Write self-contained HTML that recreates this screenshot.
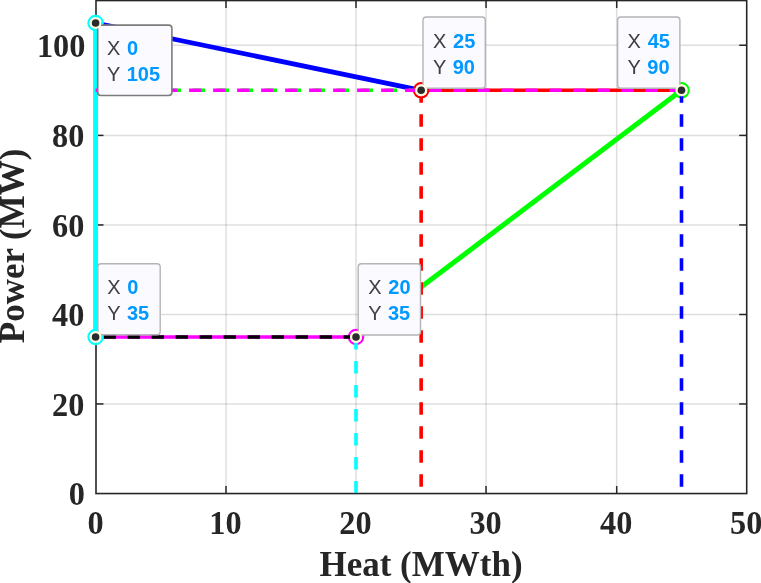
<!DOCTYPE html>
<html lang="en"><head><meta charset="utf-8"><title>Heat vs Power feasible region</title>
<style>html,body{margin:0;padding:0;background:#fff;}body{width:761px;height:583px;overflow:hidden;}svg{display:block;}.tk{font-family:"Liberation Serif","Times New Roman",serif;font-weight:bold;font-size:32.3px;fill:#262626;}.lb{font-family:"Liberation Serif","Times New Roman",serif;font-weight:bold;font-size:35px;fill:#262626;}.dl{font-family:"Liberation Sans",Arial,sans-serif;font-size:20px;fill:#404040;}.dv{font-family:"Liberation Sans",Arial,sans-serif;font-size:20px;font-weight:bold;fill:#0099ff;}</style></head><body>
<svg width="761" height="583" viewBox="0 0 761 583">
<rect x="0" y="0" width="761" height="583" fill="#ffffff"/>
<g stroke="#262626" stroke-opacity="0.15" stroke-width="1.5" fill="none">
<line x1="226.00" y1="0.55" x2="226.00" y2="493.55"/>
<line x1="356.00" y1="0.55" x2="356.00" y2="493.55"/>
<line x1="486.05" y1="0.55" x2="486.05" y2="493.55"/>
<line x1="616.70" y1="0.55" x2="616.70" y2="493.55"/>
<line x1="96.00" y1="403.95" x2="746.70" y2="403.95"/>
<line x1="96.00" y1="314.50" x2="746.70" y2="314.50"/>
<line x1="96.00" y1="224.95" x2="746.70" y2="224.95"/>
<line x1="96.00" y1="135.40" x2="746.70" y2="135.40"/>
<line x1="96.00" y1="45.25" x2="746.70" y2="45.25"/>
</g>
<g stroke="#262626" stroke-width="1.5" fill="none">
<rect x="96.00" y="0.55" width="650.70" height="493.00" stroke-width="1.6"/>
<line x1="226.00" y1="493.55" x2="226.00" y2="486.05"/>
<line x1="226.00" y1="0.55" x2="226.00" y2="8.05"/>
<line x1="356.00" y1="493.55" x2="356.00" y2="486.05"/>
<line x1="356.00" y1="0.55" x2="356.00" y2="8.05"/>
<line x1="486.05" y1="493.55" x2="486.05" y2="486.05"/>
<line x1="486.05" y1="0.55" x2="486.05" y2="8.05"/>
<line x1="616.70" y1="493.55" x2="616.70" y2="486.05"/>
<line x1="616.70" y1="0.55" x2="616.70" y2="8.05"/>
<line x1="96.00" y1="403.95" x2="103.50" y2="403.95"/>
<line x1="746.70" y1="403.95" x2="739.20" y2="403.95"/>
<line x1="96.00" y1="314.50" x2="103.50" y2="314.50"/>
<line x1="746.70" y1="314.50" x2="739.20" y2="314.50"/>
<line x1="96.00" y1="224.95" x2="103.50" y2="224.95"/>
<line x1="746.70" y1="224.95" x2="739.20" y2="224.95"/>
<line x1="96.00" y1="135.40" x2="103.50" y2="135.40"/>
<line x1="746.70" y1="135.40" x2="739.20" y2="135.40"/>
<line x1="96.00" y1="45.25" x2="103.50" y2="45.25"/>
<line x1="746.70" y1="45.25" x2="739.20" y2="45.25"/>
</g>
<g class="tk" text-anchor="middle">
<text transform="translate(95.50,534.2) scale(1,1.06)">0</text>
<text transform="translate(225.50,534.2) scale(1,1.06)">10</text>
<text transform="translate(355.50,534.2) scale(1,1.06)">20</text>
<text transform="translate(485.55,534.2) scale(1,1.06)">30</text>
<text transform="translate(616.20,534.2) scale(1,1.06)">40</text>
<text transform="translate(746.20,534.2) scale(1,1.06)">50</text>
</g>
<g class="tk" text-anchor="end">
<text transform="translate(84.90,505.15) scale(1,1.06)">0</text>
<text transform="translate(84.40,415.95) scale(1,1.06)">20</text>
<text transform="translate(84.40,325.60) scale(1,1.06)">40</text>
<text transform="translate(84.40,236.95) scale(1,1.06)">60</text>
<text transform="translate(84.40,147.40) scale(1,1.06)">80</text>
<text transform="translate(85.40,57.25) scale(1,1.06)">100</text>
</g>
<text class="lb" text-anchor="middle" transform="translate(421.0,576.1) scale(1,1.025)">Heat (MWth)</text>
<text class="lb" text-anchor="middle" transform="translate(23.9,245.9) rotate(-90)">Power (MW)</text>
<g fill="none">
<line x1="95.60" y1="23.00" x2="421.15" y2="90.30" stroke="#0000ff" stroke-width="4.80"/>
<line x1="421.15" y1="287.10" x2="681.50" y2="90.30" stroke="#00ff00" stroke-width="5.00"/>
<circle cx="681.50" cy="90.30" r="7.2" stroke="#00ff00" stroke-width="2.2"/>
<line x1="95.60" y1="337.00" x2="95.60" y2="23.00" stroke="#00ffff" stroke-width="5.00"/>
<line x1="421.15" y1="90.30" x2="681.50" y2="90.30" stroke="#ff0000" stroke-width="3.60"/>
<circle cx="421.15" cy="90.30" r="7.2" stroke="#ff0000" stroke-width="2.2"/>
<line x1="96.60" y1="90.30" x2="421.15" y2="90.30" stroke="#00ff00" stroke-width="3.60" stroke-dasharray="12.4 11.6" stroke-dashoffset="0.00"/>
<line x1="681.50" y1="90.30" x2="95.60" y2="90.30" stroke="#ff00ff" stroke-width="3.60" stroke-dasharray="12.4 11.6" stroke-dashoffset="0.00"/>
<line x1="95.60" y1="337.00" x2="356.00" y2="337.00" stroke="#ff00ff" stroke-width="3.60"/>
<circle cx="356.00" cy="337.00" r="7.2" stroke="#ff00ff" stroke-width="2.2"/>
<line x1="356.00" y1="337.00" x2="95.60" y2="337.00" stroke="#000000" stroke-width="3.60" stroke-dasharray="12.4 11.6" stroke-dashoffset="0.00"/>
<circle cx="95.60" cy="337.00" r="7.2" stroke="#00ffff" stroke-width="2.2"/>
<circle cx="95.60" cy="23.00" r="7.2" stroke="#00ffff" stroke-width="2.2"/>
<line x1="421.15" y1="90.30" x2="421.15" y2="492.75" stroke="#ff0000" stroke-width="3.60" stroke-dasharray="12.4 11.6" stroke-dashoffset="0.00"/>
<line x1="681.50" y1="90.30" x2="681.50" y2="492.75" stroke="#0000ff" stroke-width="3.60" stroke-dasharray="12.4 11.6" stroke-dashoffset="0.00"/>
<line x1="356.00" y1="337.00" x2="356.00" y2="492.75" stroke="#00ffff" stroke-width="3.60" stroke-dasharray="12.4 11.6" stroke-dashoffset="0.00"/>
</g>
<g>
<rect x="97.70" y="25.15" width="74.20" height="70.40" rx="3.2" ry="3.2" fill="#fafaff" stroke="#7c7c7c" stroke-width="1.6"/>
<text x="106.90" y="55.15"><tspan class="dl">X </tspan><tspan class="dv" dx="1.2">0</tspan></text>
<text x="106.90" y="81.25"><tspan class="dl">Y </tspan><tspan class="dv" dx="1.2">105</tspan></text>
</g>
<g>
<rect x="423.00" y="17.00" width="62.30" height="71.30" rx="3.2" ry="3.2" fill="#fafaff" stroke="#b4b4b4" stroke-width="1.4"/>
<text x="433.00" y="47.90"><tspan class="dl">X </tspan><tspan class="dv" dx="1.2">25</tspan></text>
<text x="433.00" y="73.80"><tspan class="dl">Y </tspan><tspan class="dv" dx="1.2">90</tspan></text>
</g>
<g>
<rect x="617.60" y="17.00" width="62.30" height="71.30" rx="3.2" ry="3.2" fill="#fafaff" stroke="#b4b4b4" stroke-width="1.4"/>
<text x="627.60" y="47.90"><tspan class="dl">X </tspan><tspan class="dv" dx="1.2">45</tspan></text>
<text x="627.60" y="73.80"><tspan class="dl">Y </tspan><tspan class="dv" dx="1.2">90</tspan></text>
</g>
<g>
<rect x="97.90" y="263.70" width="62.30" height="71.00" rx="3.2" ry="3.2" fill="#fafaff" stroke="#b4b4b4" stroke-width="1.4"/>
<text x="107.20" y="294.20"><tspan class="dl">X </tspan><tspan class="dv" dx="1.2">0</tspan></text>
<text x="107.20" y="319.80"><tspan class="dl">Y </tspan><tspan class="dv" dx="1.2">35</tspan></text>
</g>
<g>
<rect x="358.20" y="263.80" width="62.30" height="71.20" rx="3.2" ry="3.2" fill="#fafaff" stroke="#b4b4b4" stroke-width="1.4"/>
<text x="368.20" y="294.30"><tspan class="dl">X </tspan><tspan class="dv" dx="1.2">20</tspan></text>
<text x="368.20" y="319.90"><tspan class="dl">Y </tspan><tspan class="dv" dx="1.2">35</tspan></text>
</g>
<circle cx="95.60" cy="23.00" r="6.1" fill="#fffde0"/>
<circle cx="95.60" cy="23.00" r="3.8" fill="#2c2c2c"/>
<circle cx="421.15" cy="90.30" r="6.1" fill="#fffde0"/>
<circle cx="421.15" cy="90.30" r="3.8" fill="#2c2c2c"/>
<circle cx="681.50" cy="90.30" r="6.1" fill="#fffde0"/>
<circle cx="681.50" cy="90.30" r="3.8" fill="#2c2c2c"/>
<circle cx="95.60" cy="337.00" r="6.1" fill="#fffde0"/>
<circle cx="95.60" cy="337.00" r="3.8" fill="#2c2c2c"/>
<circle cx="356.00" cy="337.00" r="6.1" fill="#fffde0"/>
<circle cx="356.00" cy="337.00" r="3.8" fill="#2c2c2c"/>
</svg></body></html>
